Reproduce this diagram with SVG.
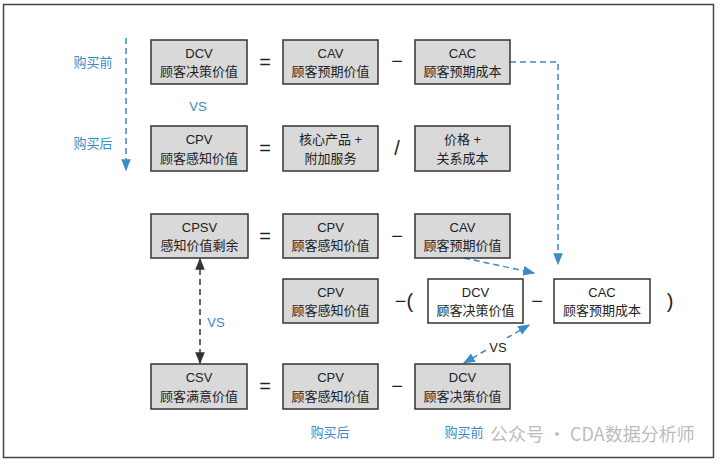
<svg xmlns="http://www.w3.org/2000/svg" width="722" height="464" viewBox="0 0 722 464">
<defs>
<style>
.bx{fill:#d9d9d9;stroke:#333;stroke-width:1.5}
.wb{fill:#fff;stroke:#333;stroke-width:1.5}
.t{font-family:"Liberation Sans","Noto Sans CJK SC",sans-serif;font-size:13px;fill:#222;text-anchor:middle}
.op{font-family:"Liberation Sans","Noto Sans CJK SC",sans-serif;font-size:20px;fill:#222;text-anchor:middle}
.bl{font-family:"Liberation Sans","Noto Sans CJK SC",sans-serif;font-size:13px;fill:#3a8cc8;text-anchor:middle}
.dl{fill:none;stroke:#3a8cc8;stroke-width:1.5;stroke-dasharray:6 4}
.dk{fill:none;stroke:#333;stroke-width:1.5;stroke-dasharray:6 4}
</style>
<marker id="ab" viewBox="0 0 10 10" refX="9" refY="5" markerWidth="8" markerHeight="8" orient="auto-start-reverse"><path d="M0,1 L10,5 L0,9 z" fill="#3a8cc8"/></marker>
<marker id="ak" viewBox="0 0 10 10" refX="9" refY="5" markerWidth="8" markerHeight="8" orient="auto-start-reverse"><path d="M0,1 L10,5 L0,9 z" fill="#333"/></marker>
</defs>
<rect x="3.5" y="4.5" width="710" height="453" fill="#fff" stroke="#444" stroke-width="1.5"/>

<g id="connectors">
<path class="dl" d="M126,38 L126,170" marker-end="url(#ab)"/>
<path class="dl" d="M510,62 L558,62 L558,264" marker-end="url(#ab)"/>
<path class="dl" d="M464,258 L534,273" marker-end="url(#ab)"/>
<path class="dl" d="M529,325 L464,363" marker-start="url(#ab)" marker-end="url(#ab)"/>
<path class="dk" d="M200,259 L200,363" marker-start="url(#ak)" marker-end="url(#ak)"/>
</g>

<g id="labels">
<text class="bl" x="93" y="67">购买前</text>
<text class="bl" x="93" y="148">购买后</text>
<text class="bl" x="198" y="111">VS</text>
<text class="bl" x="216" y="327">VS</text>
<rect x="487" y="338" width="22" height="16" fill="#fff"/>
<text class="t" x="498" y="352">VS</text>
<text class="bl" x="330" y="437">购买后</text>
<text class="bl" x="464" y="437">购买前</text>
<text x="490" y="441" font-family="'Noto Sans CJK SC',sans-serif" font-size="18" fill="#aaa" fill-opacity="0.8">公众号 · CDA数据分析师</text>
</g>

<g id="dcv1"><rect class="bx" x="151" y="40" width="96" height="44"/><text class="t" x="199" y="58">DCV</text><text class="t" x="199" y="76">顾客决策价值</text></g>
<g id="cav1"><rect class="bx" x="283" y="40" width="95" height="44"/><text class="t" x="330.5" y="58">CAV</text><text class="t" x="330.5" y="76">顾客预期价值</text></g>
<g id="cac1"><rect class="bx" x="415" y="40" width="95" height="44"/><text class="t" x="462.5" y="58">CAC</text><text class="t" x="462.5" y="76">顾客预期成本</text></g>
<text class="op" x="265" y="69">=</text>
<text class="op" x="397" y="68">−</text>

<g id="cpv2"><rect class="bx" x="151" y="126" width="96" height="45"/><text class="t" x="199" y="144">CPV</text><text class="t" x="199" y="163">顾客感知价值</text></g>
<g id="core"><rect class="bx" x="283" y="126" width="95" height="45"/><text class="t" x="330.5" y="144">核心产品 +</text><text class="t" x="330.5" y="163">附加服务</text></g>
<g id="price"><rect class="bx" x="415" y="126" width="95" height="45"/><text class="t" x="462.5" y="144">价格 +</text><text class="t" x="462.5" y="163">关系成本</text></g>
<text class="op" x="265" y="155">=</text>
<text class="op" x="397" y="155">/</text>

<g id="cpsv"><rect class="bx" x="151" y="214" width="97" height="44"/><text class="t" x="199.5" y="232">CPSV</text><text class="t" x="199.5" y="250">感知价值剩余</text></g>
<g id="cpv3"><rect class="bx" x="283" y="214" width="95" height="44"/><text class="t" x="330.5" y="232">CPV</text><text class="t" x="330.5" y="250">顾客感知价值</text></g>
<g id="cav3"><rect class="bx" x="415" y="214" width="95" height="44"/><text class="t" x="462.5" y="232">CAV</text><text class="t" x="462.5" y="250">顾客预期价值</text></g>
<text class="op" x="265" y="243">=</text>
<text class="op" x="397" y="243">−</text>

<g id="cpv4"><rect class="bx" x="283" y="279" width="95" height="44"/><text class="t" x="330.5" y="297">CPV</text><text class="t" x="330.5" y="315">顾客感知价值</text></g>
<g id="dcv4"><rect class="wb" x="428" y="279" width="95" height="44"/><text class="t" x="475.5" y="297">DCV</text><text class="t" x="475.5" y="315">顾客决策价值</text></g>
<g id="cac4"><rect class="wb" x="554" y="279" width="96" height="44"/><text class="t" x="602" y="297">CAC</text><text class="t" x="602" y="315">顾客预期成本</text></g>
<text class="op" x="404" y="308">−(</text>
<text class="op" x="537" y="308">−</text>
<text class="op" x="670" y="308">)</text>

<g id="csv"><rect class="bx" x="151" y="364" width="96" height="45"/><text class="t" x="199" y="382">CSV</text><text class="t" x="199" y="401">顾客满意价值</text></g>
<g id="cpv5"><rect class="bx" x="283" y="364" width="95" height="45"/><text class="t" x="330.5" y="382">CPV</text><text class="t" x="330.5" y="401">顾客感知价值</text></g>
<g id="dcv5"><rect class="bx" x="415" y="364" width="95" height="45"/><text class="t" x="462.5" y="382">DCV</text><text class="t" x="462.5" y="401">顾客决策价值</text></g>
<text class="op" x="265" y="393">=</text>
<text class="op" x="397" y="393">−</text>
</svg>
